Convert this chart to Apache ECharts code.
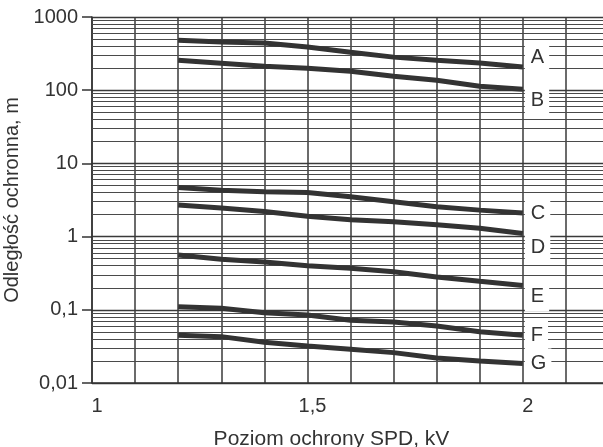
<!DOCTYPE html>
<html>
<head>
<meta charset="utf-8">
<script src="https://cdn.jsdelivr.net/npm/echarts@6/dist/echarts.min.js"></script>
<style>
  html, body { margin: 0; padding: 0; background: #fff; }
  #chart { width: 603px; height: 447px; }
</style>
</head>
<body>
<div id="chart"></div>
<script>
// napięcie (kV) i odległości ochronne (m)
var xValues = [1.2, 1.3, 1.4, 1.5, 1.6, 1.7, 1.8, 1.9, 2.0];
var seriesA = [480, 455, 440, 390, 330, 283, 257, 235, 207];
var seriesB = [257, 234, 213, 200, 182, 155, 137, 113, 103];
var seriesC = [4.7, 4.3, 4.1, 4.0, 3.5, 3.0, 2.55, 2.3, 2.1];
var seriesD = [2.7, 2.45, 2.2, 1.9, 1.7, 1.6, 1.45, 1.3, 1.1];
var seriesE = [0.56, 0.49, 0.45, 0.40, 0.37, 0.33, 0.28, 0.245, 0.215];
var seriesF = [0.11, 0.105, 0.091, 0.085, 0.072, 0.068, 0.06, 0.05, 0.045];
var seriesG = [0.045, 0.043, 0.036, 0.032, 0.029, 0.026, 0.022, 0.02, 0.0185];
var seriesNames = ['A', 'B', 'C', 'D', 'E', 'F', 'G'];
var xTickValues = [1, 1.5, 2];
var decades = [0.01, 0.1, 1, 10, 100];
var minorSteps = [2, 3, 4, 5, 6, 7, 8, 9];

var allSeries = [seriesA, seriesB, seriesC, seriesD, seriesE, seriesF, seriesG];
// przesunięcie etykiet w pionie
var labelOffsets = [-10, 11, 0, 14, 11, 0, 0];
var font = 'Liberation Sans, Arial, sans-serif';

function comma(v) {
  return String(v).replace('.', ',');
}

// pomocnicze linie siatki logarytmicznej (2..9 w każdej dekadzie)
var minorLines = [];
decades.forEach(function (d) {
  minorSteps.forEach(function (m) {
    minorLines.push({ yAxis: +(d * m).toPrecision(3) });
  });
});

var series = [{
  type: 'line',
  data: [],
  z: 1,
  silent: true,
  markLine: {
    silent: true,
    symbol: 'none',
    label: { show: false },
    animation: false,
    lineStyle: { color: '#4a4a4a', width: 1, type: 'solid' },
    data: minorLines
  }
}];

allSeries.forEach(function (vals, i) {
  var pts = [];
  for (var k = 0; k < xValues.length; k++) {
    pts.push([xValues[k], vals[k]]);
  }
  series.push({
    name: seriesNames[i],
    type: 'line',
    data: pts,
    z: 5,
    symbol: 'none',
    lineStyle: { color: '#333', width: 5 },
    endLabel: {
      show: true,
      formatter: seriesNames[i],
      distance: 2,
      offset: [0, labelOffsets[i]],
      fontSize: 20,
      fontFamily: font,
      color: '#333',
      backgroundColor: '#fff',
      padding: [5, 5, 5, 6]
    }
  });
});

var myChart = echarts.init(document.getElementById('chart'));
var option = {
  animation: false,
  backgroundColor: '#fff',
  grid: { left: 92, top: 17, width: 517, height: 366, outerBoundsMode: 'none', containLabel: false },
  xAxis: {
    type: 'value',
    min: 1,
    max: 2.2,
    interval: 0.1,
    name: 'Poziom ochrony SPD, kV',
    nameLocation: 'middle',
    nameGap: 46,
    nameTextStyle: {
      fontSize: 21,
      color: '#333',
      fontFamily: font,
      padding: [0, 38, 0, 0]
    },
    axisLine: { show: true, onZero: false, lineStyle: { color: '#333', width: 1.5 } },
    axisTick: { show: false },
    splitLine: { show: true, lineStyle: { color: '#3a3a3a', width: 1.5 } },
    axisLabel: {
      fontSize: 20,
      color: '#333',
      margin: 13,
      padding: [0, 0, 0, 10],
      fontFamily: font,
      formatter: function (v) {
        for (var i = 0; i < xTickValues.length; i++) {
          if (Math.abs(v - xTickValues[i]) < 1e-6) return comma(xTickValues[i]);
        }
        return '';
      }
    }
  },
  yAxis: {
    type: 'log',
    logBase: 10,
    min: 0.01,
    max: 1000,
    name: 'Odległość ochronna, m',
    nameLocation: 'middle',
    nameGap: 62,
    nameTextStyle: {
      fontSize: 20,
      color: '#333',
      fontFamily: font
    },
    axisLine: { show: true, lineStyle: { color: '#333', width: 1.5 } },
    axisTick: { show: true, length: 10, lineStyle: { color: '#333', width: 1.5 } },
    splitLine: { show: true, lineStyle: { color: '#3a3a3a', width: 1.3 } },
    axisLabel: {
      fontSize: 20,
      color: '#333',
      margin: 14,
      fontFamily: font,
      formatter: function (v) { return comma(+v.toPrecision(3)); }
    }
  },
  series: series
};
myChart.setOption(option, true);
</script>
</body>
</html>
